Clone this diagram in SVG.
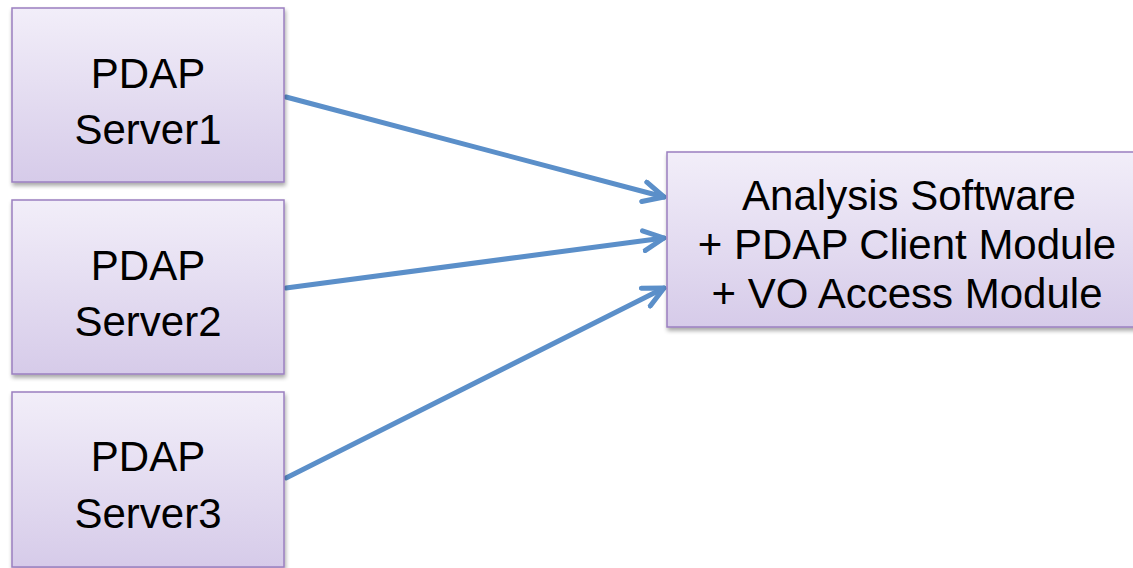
<svg xmlns="http://www.w3.org/2000/svg" width="1133" height="568" viewBox="0 0 1133 568">
<defs>
<linearGradient id="g" x1="0" y1="0" x2="0" y2="1">
<stop offset="0" stop-color="#f2eef9"/>
<stop offset="1" stop-color="#d6cbe9"/>
</linearGradient>
<filter id="sh" x="-10%" y="-10%" width="130%" height="130%">
<feGaussianBlur in="SourceAlpha" stdDeviation="2"/>
<feOffset dx="1" dy="3"/>
<feComponentTransfer><feFuncA type="linear" slope="0.35"/></feComponentTransfer>
<feMerge><feMergeNode/><feMergeNode in="SourceGraphic"/></feMerge>
</filter>
<marker id="arr" viewBox="0 0 12 12" refX="11" refY="6" markerWidth="5" markerHeight="5" markerUnits="strokeWidth" orient="auto">
<path d="M1.2,1.2 L11,6 L1.2,10.8" fill="none" stroke="#5b8fc9" stroke-width="2.4" stroke-linecap="round" stroke-linejoin="round"/>
</marker>
</defs>
<style>
.box{fill:url(#g);stroke:#9a7fc0;stroke-width:1.5;filter:url(#sh)}
.t{font-family:"Liberation Sans",Arial,sans-serif;font-size:42px;fill:#000;text-anchor:middle}
.c{fill:none;stroke:#5b8fc9;stroke-width:5;stroke-linecap:round;marker-end:url(#arr)}
</style>
<rect width="1133" height="568" fill="#fff"/>
<g id="connectors">
<line class="c" x1="286" y1="97" x2="664" y2="197"/>
<line class="c" x1="286" y1="288" x2="664" y2="238"/>
<line class="c" x1="286" y1="478" x2="664" y2="288"/>
</g>
<g id="server1">
<rect class="box" x="12" y="8" width="272" height="174"/>
<text class="t" x="148" y="88">PDAP</text>
<text class="t" x="148" y="144">Server1</text>
</g>
<g id="server2">
<rect class="box" x="12" y="200" width="272" height="174"/>
<text class="t" x="148" y="280">PDAP</text>
<text class="t" x="148" y="336">Server2</text>
</g>
<g id="server3">
<rect class="box" x="12" y="392" width="272" height="175"/>
<text class="t" x="148" y="471">PDAP</text>
<text class="t" x="148" y="528">Server3</text>
</g>
<g id="analysis">
<rect class="box" x="667" y="152" width="480" height="175"/>
<text class="t" x="909" y="210">Analysis Software</text>
<text class="t" x="907" y="259">+ PDAP Client Module</text>
<text class="t" x="907" y="308">+ VO Access Module</text>
</g>
</svg>
